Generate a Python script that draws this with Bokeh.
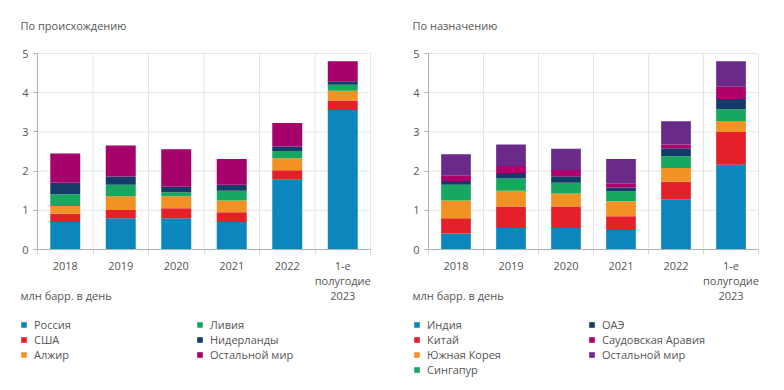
from bokeh.plotting import figure
from bokeh.models import Range1d, FixedTicker, Legend, LegendItem, Label, ColumnDataSource
from bokeh.layouts import row
from bokeh.embed import file_html
from bokeh.resources import INLINE
import numpy as np

categories = ["2018", "2019", "2020", "2021", "2022", "1-е\nполугодие\n2023"]

# По происхождению
origin_names = ["Россия", "США", "Алжир", "Ливия", "Нидерланды", "Остальной мир"]
russia      = [0.70, 0.80, 0.80, 0.70, 1.78, 3.56]
usa         = [0.21, 0.21, 0.25, 0.25, 0.24, 0.24]
algeria     = [0.20, 0.35, 0.31, 0.30, 0.31, 0.25]
libya       = [0.30, 0.29, 0.10, 0.25, 0.18, 0.15]
netherlands = [0.29, 0.21, 0.14, 0.15, 0.12, 0.09]
rest_origin = [0.75, 0.79, 0.96, 0.66, 0.60, 0.51]
origin_colors = ["#0b87bd", "#e4202a", "#f39224", "#16a85f", "#153b6b", "#a6006a"]

# По назначению
dest_names = ["Индия", "Китай", "Южная Корея", "Сингапур", "ОАЭ", "Саудовская Аравия", "Остальной мир"]
india     = [0.41, 0.55, 0.55, 0.50, 1.28, 2.16]
china     = [0.39, 0.55, 0.55, 0.35, 0.45, 0.84]
skorea    = [0.45, 0.40, 0.33, 0.38, 0.35, 0.28]
singapore = [0.40, 0.31, 0.27, 0.25, 0.30, 0.30]
uae       = [0.10, 0.14, 0.17, 0.10, 0.20, 0.26]
saudi     = [0.13, 0.18, 0.16, 0.10, 0.10, 0.31]
rest_dest = [0.55, 0.55, 0.54, 0.63, 0.59, 0.65]
dest_colors = ["#0b87bd", "#e4202a", "#f39224", "#16a85f", "#153b6b", "#b0006a", "#6a2a89"]

y_ticks = [0, 1, 2, 3, 4, 5]
unit_label = "млн барр. в день"

FONT = "Open Sans"
TXT = "#555555"
GRID = "#e6e6e6"
AXIS = "#b0b0b0"


def make_panel(title, names, series, colors, px_left, px_right, split, leg_x):
    W, H = 392, 390
    n = len(categories)
    ymax = y_ticks[-1]
    y_top_px, y0_px = 53, 249
    ppx = (px_right - px_left) / n
    ppy = (y0_px - y_top_px) / ymax
    x_range = Range1d(-px_left / ppx, n + (W - px_right) / ppx)
    y_range = Range1d(-(H - y0_px) / ppy, ymax + y_top_px / ppy)

    centers = list(np.arange(n) + 0.5)
    bounds = list(range(n + 1))
    data = {"x": centers}
    keys = []
    for i, s in enumerate(series):
        k = f"s{i}"
        keys.append(k)
        data[k] = s
    src = ColumnDataSource(data)

    p = figure(width=W, height=H, x_range=x_range, y_range=y_range,
               output_backend="svg", toolbar_location=None, min_border=0)
    p.title.visible = False
    p.outline_line_color = None
    p.xgrid.visible = False
    p.ygrid.visible = False

    # grid lines limited to the plotting area
    p.segment(x0=[0] * (len(y_ticks) - 1), x1=[n] * (len(y_ticks) - 1),
              y0=y_ticks[1:], y1=y_ticks[1:], line_color=GRID, line_width=1, level="underlay")
    p.segment(x0=bounds[1:], x1=bounds[1:], y0=[0] * n, y1=[ymax] * n,
              line_color=GRID, line_width=1, level="underlay")

    rs = p.vbar_stack(keys, x="x", width=0.54, color=colors, line_color=None, source=src)

    xa = p.xaxis[0]
    xa.fixed_location = 0
    xa.bounds = (0, n)
    xa.ticker = FixedTicker(ticks=centers, minor_ticks=bounds)
    xa.major_label_overrides = {c: lab for c, lab in zip(centers, categories)}
    xa.major_tick_line_color = None
    xa.major_tick_out = 0
    xa.minor_tick_out = 5
    xa.minor_tick_in = 0
    xa.minor_tick_line_color = "#d5d5d5"
    xa.axis_line_color = AXIS
    xa.major_label_text_font = FONT
    xa.major_label_text_font_size = "11px"
    xa.major_label_text_color = TXT
    xa.major_label_text_line_height = 1.0
    xa.major_label_standoff = 3

    ya = p.yaxis[0]
    ya.fixed_location = 0
    ya.bounds = (0, ymax)
    ya.ticker = FixedTicker(ticks=y_ticks)
    ya.axis_line_color = AXIS
    ya.major_tick_line_color = AXIS
    ya.major_tick_out = 4
    ya.major_tick_in = 0
    ya.minor_tick_line_color = None
    ya.major_label_text_font = FONT
    ya.major_label_text_font_size = "11px"
    ya.major_label_text_color = TXT
    ya.major_label_standoff = 5

    p.add_layout(Label(x=20, y=H - 25, x_units="screen", y_units="screen", text=title,
                       text_font=FONT, text_font_size="11px", text_color=TXT,
                       text_baseline="middle"))
    p.add_layout(Label(x=20, y=H - 295, x_units="screen", y_units="screen", text=unit_label,
                       text_font=FONT, text_font_size="11px", text_color=TXT,
                       text_baseline="middle"))

    item_h = 15
    items = [LegendItem(label=nm, renderers=[r]) for nm, r in zip(names, rs)]
    groups = [items[:split], items[split:]]
    for g, lx in zip(groups, leg_x):
        vy = H - 316.5 - item_h * len(g)
        leg = Legend(items=g, location=(lx, vy), orientation="vertical",
                     glyph_width=7, glyph_height=7, label_standoff=7, spacing=0,
                     padding=0, margin=0, border_line_color=None,
                     background_fill_alpha=0, label_text_font=FONT,
                     label_text_font_size="11px", label_text_color=TXT, label_height=14)
        p.add_layout(leg, "center")
    return p


p1 = make_panel("По происхождению", origin_names,
                [russia, usa, algeria, libya, netherlands, rest_origin],
                origin_colors, 37, 370, 3, [20, 196])
p2 = make_panel("По назначению", dest_names,
                [india, china, skorea, singapore, uae, saudi, rest_dest],
                dest_colors, 36, 366, 4, [21, 196])

layout = row(p1, p2)
open("out.html", "w").write(file_html(layout, INLINE))
